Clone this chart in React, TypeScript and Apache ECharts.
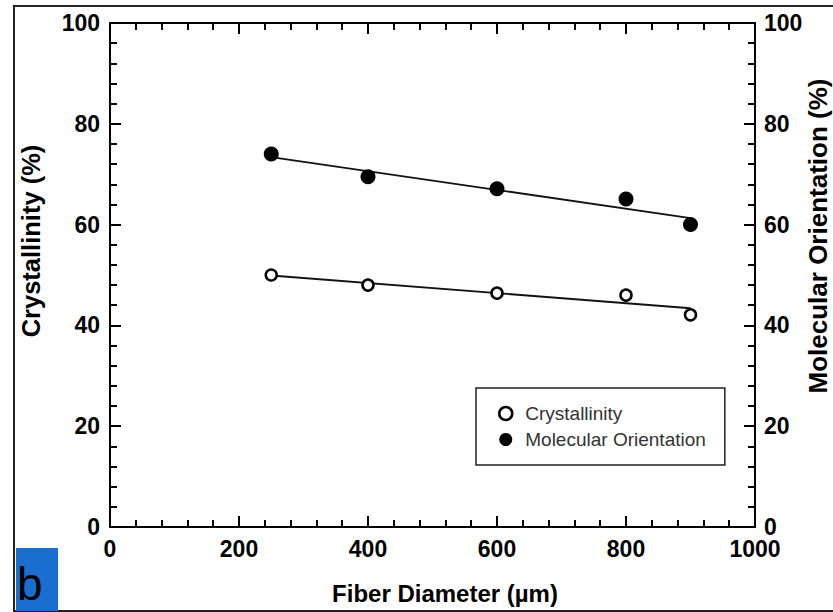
import React, { useEffect, useRef } from "react";
import * as echarts from "echarts";

const diameters = [250, 400, 600, 800, 900];
const crystallinity = [50, 48, 46.4, 46, 42.1];
const orientation = [74, 69.5, 67.1, 65.1, 60];
const crystFitX = [250, 900];
const crystFitY = [49.9, 43.4];
const orientFitX = [250, 900];
const orientFitY = [73.4, 61.3];

const FONT = "'Liberation Sans', Arial, Helvetica, sans-serif";

export default function App() {
  const ref = useRef<HTMLDivElement>(null);
  useEffect(() => {
    if (!ref.current) return;
    const chart = echarts.init(ref.current, null, { renderer: "svg" });
    const tickLabel = {
      color: "#000", fontFamily: FONT, fontWeight: "bold" as const, fontSize: 23,
      formatter: (v: number) => String(v),
    };
    const axisLine = { show: true, onZero: false, lineStyle: { color: "#000", width: 2 } };
    const axisTick = { show: true, inside: true, length: 11, lineStyle: { color: "#000", width: 2 } };
    const minorTick = { show: true, splitNumber: 5, length: 7, lineStyle: { color: "#000", width: 2 } };
    const nameStyle = { color: "#000", fontFamily: FONT, fontWeight: "bold" as const };
    chart.setOption({
      animation: false,
      backgroundColor: "#fff",
      grid: { left: 110, top: 23, width: 645, height: 504, containLabel: false, outerBoundsMode: "none" },
      xAxis: [
        {
          type: "value", min: 0, max: 1000, interval: 200, position: "bottom",
          axisLine, axisTick, minorTick,
          axisLabel: { ...tickLabel, margin: 10, showMinLabel: true, showMaxLabel: true, hideOverlap: false },
          splitLine: { show: false },
          name: "Fiber Diameter (\u00b5m)", nameLocation: "middle", nameGap: 54, nameMoveOverlap: false,
          nameTextStyle: { ...nameStyle, fontSize: 24, padding: [0, 0, 0, 25] },
        },
        {
          type: "value", min: 0, max: 1000, interval: 200, position: "top",
          axisLine, axisTick, minorTick,
          axisLabel: { show: false }, splitLine: { show: false },
        },
      ],
      yAxis: [
        {
          type: "value", min: 0, max: 100, interval: 20, position: "left",
          axisLine, axisTick, minorTick,
          axisLabel: { ...tickLabel, margin: 10, showMinLabel: true, showMaxLabel: true },
          splitLine: { show: false },
          name: "Crystallinity (%)", nameLocation: "middle", nameGap: 66, nameRotate: 90, nameMoveOverlap: false,
          nameTextStyle: { ...nameStyle, fontSize: 25.5, padding: [0, 0, 0, 68] },
        },
        {
          type: "value", min: 0, max: 100, interval: 20, position: "right",
          axisLine, axisTick, minorTick,
          axisLabel: { ...tickLabel, margin: 9, showMinLabel: true, showMaxLabel: true },
          splitLine: { show: false },
          name: "Molecular Orientation (%)", nameLocation: "middle", nameGap: 50, nameRotate: 90, nameMoveOverlap: false,
          nameTextStyle: { ...nameStyle, fontSize: 26, padding: [0, 0, 0, 78] },
        },
      ],
      legend: {
        orient: "vertical",
        left: 476,
        top: 388,
        padding: [16, 19, 16, 22],
        itemWidth: 13,
        itemHeight: 13,
        itemGap: 7,
        borderColor: "#222",
        borderWidth: 1.5,
        backgroundColor: "#fff",
        textStyle: { fontFamily: FONT, fontSize: 19, color: "#333", padding: [0, 0, 0, 8] },
        data: [
          { name: "Crystallinity", icon: "circle", itemStyle: { color: "#fff", borderColor: "#000", borderWidth: 2.5 } },
          { name: "Molecular Orientation", icon: "circle", itemStyle: { color: "#000", borderColor: "#000", borderWidth: 0 } },
        ],
      },
      series: [
        {
          type: "line", xAxisIndex: 0, yAxisIndex: 0, silent: true, symbol: "none", z: 1,
          lineStyle: { color: "#111", width: 1.8 },
          data: crystFitX.map((x, i) => [x, crystFitY[i]]),
        },
        {
          type: "line", xAxisIndex: 0, yAxisIndex: 1, silent: true, symbol: "none", z: 1,
          lineStyle: { color: "#111", width: 1.8 },
          data: orientFitX.map((x, i) => [x, orientFitY[i]]),
        },
        {
          name: "Crystallinity", type: "scatter", xAxisIndex: 0, yAxisIndex: 0, z: 3,
          symbol: "circle", symbolSize: 11,
          itemStyle: { color: "#fff", borderColor: "#000", borderWidth: 2.5, opacity: 1 },
          data: diameters.map((x, i) => [x, crystallinity[i]]),
        },
        {
          name: "Molecular Orientation", type: "scatter", xAxisIndex: 0, yAxisIndex: 1, z: 3,
          symbol: "circle", symbolSize: 15,
          itemStyle: { color: "#000", opacity: 1 },
          data: diameters.map((x, i) => [x, orientation[i]]),
        },
      ],
      graphic: [
        {
          type: "rect", silent: true, z: -1,
          shape: { x: 14, y: 6, width: 830, height: 605 },
          style: { fill: "none", stroke: "#222", lineWidth: 2 },
        },
        {
          type: "rect", silent: true, z: 10,
          shape: { x: 16, y: 548, width: 42, height: 63 },
          style: { fill: "#1a6ecf" },
        },
        {
          type: "text", silent: true, z: 11, x: 17, y: 607,
          style: { text: "b", fill: "#000", font: `46px ${FONT}`, verticalAlign: "bottom" },
        },
      ],
    });
    return () => chart.dispose();
  }, []);
  return <div ref={ref} style={{ position: "fixed", left: 0, top: 0, width: 833, height: 612, background: "#fff" }} />;
}
